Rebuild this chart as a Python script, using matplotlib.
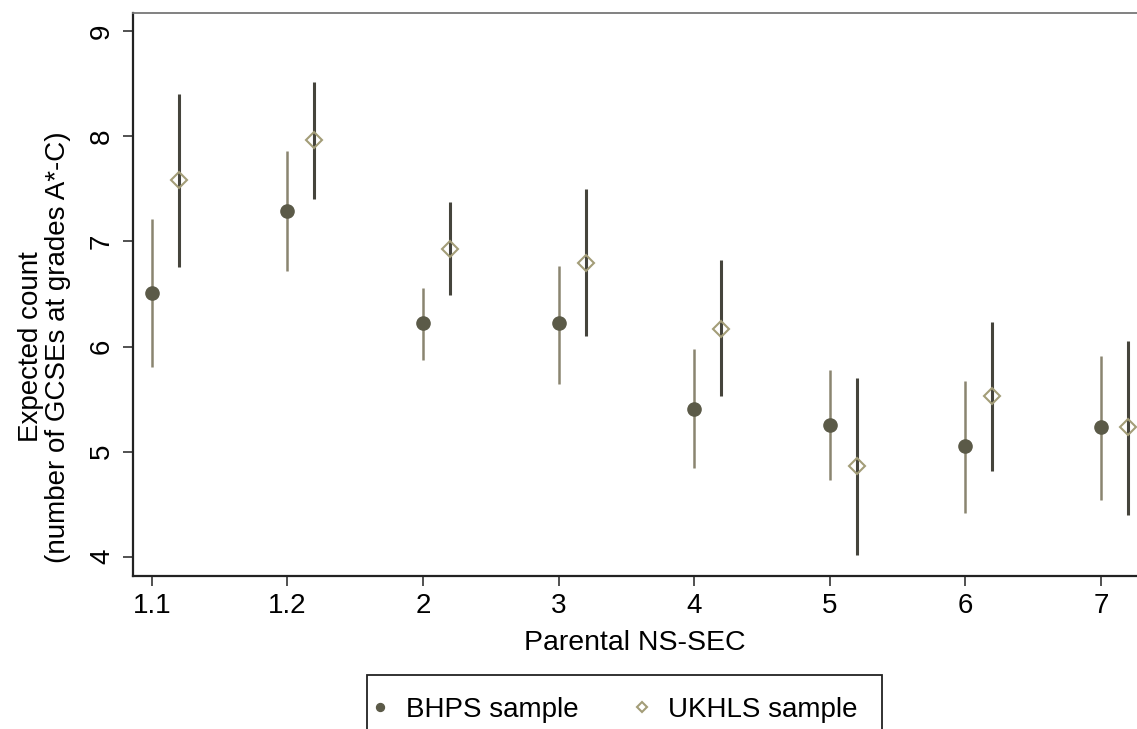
import numpy as np
import matplotlib
matplotlib.use("Agg")
from matplotlib import pyplot as plt
from matplotlib.patches import Rectangle

plt.rcParams['font.family'] = ['Liberation Sans', 'DejaVu Sans']

# Parental NS-SEC categories, estimates and 95% CIs
categories = ['1.1', '1.2', '2', '3', '4', '5', '6', '7']
bhps_est = [6.51, 7.29, 6.22, 6.22, 5.41, 5.25, 5.05, 5.23]
bhps_lo = [5.81, 6.72, 5.87, 5.64, 4.84, 4.73, 4.42, 4.54]
bhps_hi = [7.21, 7.86, 6.56, 6.77, 5.98, 5.78, 5.67, 5.91]
ukhls_est = [7.59, 7.97, 6.93, 6.80, 6.17, 4.86, 5.53, 5.23]
ukhls_lo = [6.76, 7.40, 6.49, 6.10, 5.53, 4.02, 4.82, 4.40]
ukhls_hi = [8.40, 8.52, 7.38, 7.50, 6.82, 5.70, 6.23, 6.05]
y_ticks = [4, 5, 6, 7, 8, 9]

x = np.arange(len(categories))
x_uk = x + 0.2  # UKHLS drawn slightly to the right

fig = plt.figure(figsize=(11.37, 7.29), dpi=100)
ax = fig.add_axes([133 / 1137, 1 - 576 / 729, 1 - 133 / 1137, (576 - 13) / 729])

ax.vlines(x, bhps_lo, bhps_hi, color='#8a8570', lw=1.8, zorder=2)
ax.vlines(x_uk, ukhls_lo, ukhls_hi, color='#45443c', lw=2.2, zorder=2)
ax.plot(x, bhps_est, 'o', ms=9.5, color='#5b5a48', ls='none',
        label='BHPS sample', zorder=3)
ax.plot(x_uk, ukhls_est, 'D', ms=8, mfc='none', mec='#a39d78', mew=1.5,
        ls='none', label='UKHLS sample', zorder=3)

ax.set_xlim(-0.138, 7.266)
ax.set_ylim(3.816, 9.175)
ax.set_xticks(x)
ax.set_xticklabels(categories)
ax.set_yticks(y_ticks)
ax.set_yticklabels([str(t) for t in y_ticks], rotation=90, va='center')

ax.tick_params(axis='both', labelsize=20, length=7, width=1.2,
               color='#333333', direction='out')
ax.tick_params(axis='x', pad=5)
ax.tick_params(axis='y', pad=6)

for s in ['left', 'bottom']:
    ax.spines[s].set_linewidth(1.6)
    ax.spines[s].set_color('#222222')
ax.spines['top'].set_linewidth(1.3)
ax.spines['top'].set_color('#777777')
ax.spines['right'].set_visible(False)

ax.set_xlabel('Parental NS-SEC', fontsize=20.5, labelpad=8)
ax.set_ylabel('Expected count\n(number of GCSEs at grades A*-C)',
              fontsize=20, linespacing=1.05)
ax.yaxis.set_label_coords(-0.062, 0.407)

# legend box runs off the bottom of the picture, as in the original
fig.patches.append(Rectangle((367 / 1137, -0.1), (882 - 367) / 1137,
                             0.1 + 1 - 675 / 729, transform=fig.transFigure,
                             fill=False, ec='#222222', lw=1.3))
fig.legend(loc='center left', bbox_to_anchor=(374.6 / 1137, 1 - 710 / 729),
           ncol=2, fontsize=20, frameon=False, markerscale=0.6, numpoints=1,
           handlelength=0.4, handletextpad=0.72, columnspacing=2.1,
           borderpad=0, borderaxespad=0)

fig.savefig('out.png', dpi=100)
